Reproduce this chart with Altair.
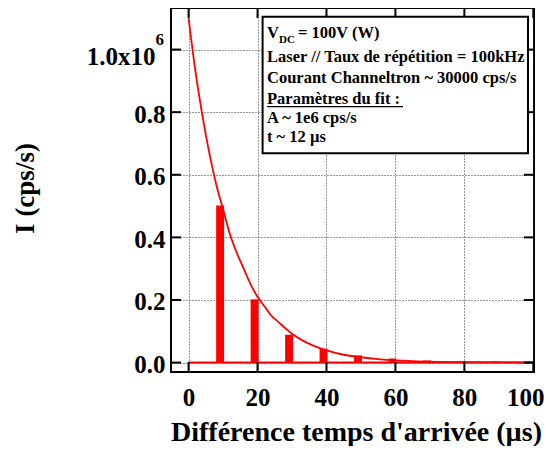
import altair as alt
import pandas as pd

# ---- data ----
bar_t = [10, 20, 30, 40, 50, 60, 70, 80, 90]
bar_counts = [0.502, 0.202, 0.089, 0.044, 0.023, 0.013, 0.007, 0.004, 0.004]

fit_t = [0, 2, 4, 6, 8, 10, 12, 14, 16, 18, 20, 22, 24, 26, 28, 30, 33, 36,
         40, 45, 50, 55, 60, 70, 80, 90, 100]
fit_counts = [1.10, 0.93, 0.79, 0.67, 0.57, 0.49, 0.41, 0.35, 0.30, 0.25, 0.21,
              0.18, 0.15, 0.13, 0.11, 0.092, 0.071, 0.055, 0.039, 0.025, 0.017,
              0.011, 0.007, 0.003, 0.0013, 0.0005, 0.0002]

base_t = [0, 100]
base_counts = [0, 0]

x_ticks = [0, 20, 40, 60, 80, 100]
y_ticks = [0.0, 0.2, 0.4, 0.6, 0.8, 1.0]

info_lines = ["Laser // Taux de répétition = 100kHz",
              "Courant Channeltron ~ 30000 cps/s",
              "Paramètres du fit :",
              "A ~ 1e6 cps/s",
              "t ~ 12 µs"]

FONT = "Liberation Serif"
W, H = 363, 364
RED = "#ff0000"

xs = alt.Scale(domain=[-5.1, 100.2], nice=False, zero=False)
ys = alt.Scale(domain=[-0.0301, 1.1328], nice=False, zero=False)

bars_df = pd.DataFrame({"t": bar_t, "I": bar_counts})
fit_df = pd.DataFrame({"t": fit_t, "I": fit_counts})
base_df = pd.DataFrame({"t": base_t, "I": base_counts})
xt_df = pd.DataFrame({"v": x_ticks})
yt_df = pd.DataFrame({"v": y_ticks})

x_axis = alt.Axis(values=x_ticks, title="Différence temps d'arrivée (µs)",
                  grid=True, gridDash=[1, 2], gridColor="#333", gridWidth=1,
                  ticks=False, domain=False, labelFont=FONT, labelFontSize=25,
                  labelFontWeight="bold", labelColor="black",
                  labelBaseline="alphabetic", labelPadding=33, labelFlush=False,
                  labelOffset={"condition": {"test": "datum.value == 100",
                                             "value": -8}, "value": 0},
                  titleFont=FONT, titleFontSize=28, titleFontWeight="bold",
                  titleColor="black", titleBaseline="alphabetic",
                  titleX=185, titleY=68, titleAnchor="middle")
y_axis = alt.Axis(values=y_ticks, title="I (cps/s)",
                  labelExpr="datum.value == 1 ? '' : format(datum.value, '.1f')",
                  grid=True, gridDash=[1, 2], gridColor="#333", gridWidth=1,
                  ticks=False, domain=False, labelFont=FONT, labelFontSize=25,
                  labelFontWeight="bold", labelColor="black",
                  labelBaseline="alphabetic", labelOffset=10, labelPadding=6,
                  labelFlush=False,
                  titleFont=FONT, titleFontSize=27, titleFontWeight="bold",
                  titleColor="black", titleBaseline="alphabetic", titleAngle=-90,
                  titleX=-138, titleY=180, titleAlign="center")

base = alt.Chart(base_df).mark_line(color=RED, strokeWidth=2).encode(
    x=alt.X("t:Q", scale=xs, axis=x_axis),
    y=alt.Y("I:Q", scale=ys, axis=y_axis))

bars = alt.Chart(bars_df).transform_calculate(
    x0="datum.t - 2.0", x1="datum.t + 0.3", y0="0"
).mark_rect(color=RED).encode(
    x=alt.X("x0:Q", scale=xs), x2="x1:Q",
    y=alt.Y("I:Q", scale=ys), y2="y0:Q")

fit = alt.Chart(fit_df).mark_line(color=RED, strokeWidth=1.8,
                                  interpolate="monotone").encode(
    x=alt.X("t:Q", scale=xs), y=alt.Y("I:Q", scale=ys))

tick_style = dict(color="black", strokeWidth=2)
xt_bottom = alt.Chart(xt_df).mark_rule(**tick_style).encode(
    x=alt.X("v:Q", scale=xs), y=alt.value(H), y2=alt.value(H - 10))
xt_top = alt.Chart(xt_df).mark_rule(**tick_style).encode(
    x=alt.X("v:Q", scale=xs), y=alt.value(0), y2=alt.value(10))
yt_left = alt.Chart(yt_df).mark_rule(**tick_style).encode(
    y=alt.Y("v:Q", scale=ys), x=alt.value(0), x2=alt.value(10))
yt_right = alt.Chart(yt_df).mark_rule(**tick_style).encode(
    y=alt.Y("v:Q", scale=ys), x=alt.value(W - 10), x2=alt.value(W))

# "1.0x10^6" top label
top_lab = alt.Chart(pd.DataFrame({"v": [1.0], "s": ["1.0x10"]})).mark_text(
    font=FONT, fontSize=25, fontWeight="bold", align="right",
    baseline="alphabetic", dy=15.5, clip=False, color="black").encode(
    y=alt.Y("v:Q", scale=ys), x=alt.value(-15.5), text="s:N")
top_exp = alt.Chart(pd.DataFrame({"v": [1.0], "s": ["6"]})).mark_text(
    font=FONT, fontSize=17, fontWeight="bold", align="left",
    baseline="alphabetic", dy=-5, clip=False, color="black").encode(
    y=alt.Y("v:Q", scale=ys), x=alt.value(-15.5), text="s:N")

# info box
box = alt.Chart(pd.DataFrame({"k": [0]})).mark_rect(
    fill="white", stroke="black", strokeWidth=2).encode(
    x=alt.value(91.6), x2=alt.value(357), y=alt.value(8.7), y2=alt.value(145.3))

TX = 96
line_y = [53.7, 74.7, 96.0, 115.3, 133.7]
info_df = pd.DataFrame({"s": info_lines, "y": line_y})
info = alt.Chart(info_df).mark_text(
    font=FONT, fontSize=16.5, fontWeight="bold", align="left",
    baseline="alphabetic", color="black").encode(
    x=alt.value(TX), y=alt.Y("y:Q", scale=None), text="s:N")

v_df = pd.DataFrame({"s": ["V", "DC", "= 100V (W)"], "x": [TX, TX + 12, TX + 31],
                     "y": [30.3, 34.5, 30.3], "size": [16.5, 11, 16.5]})
vdc = alt.Chart(v_df).mark_text(
    font=FONT, fontWeight="bold", align="left", baseline="alphabetic",
    color="black").encode(
    x=alt.X("x:Q", scale=None), y=alt.Y("y:Q", scale=None),
    size=alt.Size("size:Q", scale=None, legend=None), text="s:N")

underline = alt.Chart(pd.DataFrame({"k": [0]})).mark_rule(
    color="black", strokeWidth=1.2).encode(
    x=alt.value(TX), x2=alt.value(TX + 136), y=alt.value(98.7))

chart = alt.layer(
    base, bars, fit, xt_bottom, xt_top, yt_left, yt_right,
    top_lab, top_exp, box, info, vdc, underline
).properties(
    width=W, height=H,
    autosize=alt.AutoSizeParams(type="none"),
    padding={"left": 163, "top": 0, "right": 10, "bottom": 74},
    background="white"
).configure_view(stroke="black", strokeWidth=2)

chart.save("out.html", embed_options={"renderer": "svg", "actions": False})
